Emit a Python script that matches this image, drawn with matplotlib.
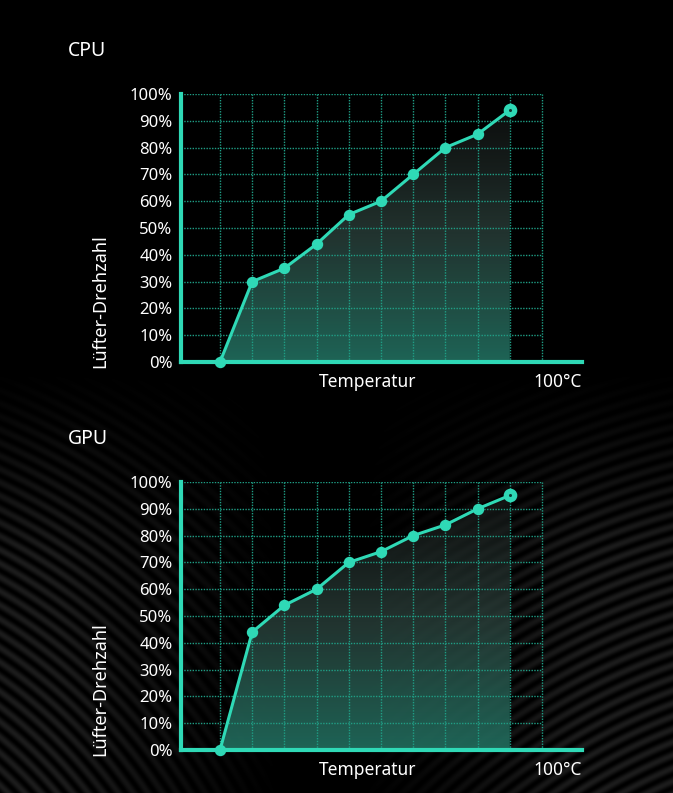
import numpy as np
import matplotlib
matplotlib.use("Agg")
import matplotlib.pyplot as plt
from matplotlib.patches import Polygon
from matplotlib.colors import LinearSegmentedColormap

plt.rcParams['font.family'] = ['Noto Sans', 'DejaVu Sans']

# ---- data ----
steps = list(range(10))                      # temperature steps along the curve
grid_steps = list(range(11))
cpu_speed = [0, 30, 35, 44, 55, 60, 70, 80, 85, 94]
gpu_speed = [0, 44, 54, 60, 70, 74, 80, 84, 90, 95]
y_ticks = [0, 10, 20, 30, 40, 50, 60, 70, 80, 90, 100]
y_tick_labels = [f"{v}%" for v in y_ticks]
titles = ["CPU", "GPU"]
ylabel = "Lüfter-Drehzahl"
xlabel = "Temperatur"
xmax_label = "100°C"

W, H = 673, 793
TEAL = "#2fd9b6"
GRID = "#1f9e85"

fig = plt.figure(figsize=(W / 100, H / 100), dpi=100)
fig.patch.set_facecolor("black")

# ---- decorative background stripes ----
bg = fig.add_axes([0, 0, 1, 1])
bg.set_axis_off()
yy, xx = np.mgrid[0:H, 0:W].astype(float)
r1 = np.hypot(xx + 300, yy - 1100)
r2 = np.hypot(xx - 900, yy - 1300)
s1 = 0.5 + 0.5 * np.sin(2 * np.pi * r1 / 12.0)
s2 = 0.5 + 0.5 * np.sin(2 * np.pi * r2 / 12.0)
env_y = np.clip((yy - 370) / 180, 0, 1)
w1 = np.clip((280 - xx) / 220, 0, 1)
w2 = np.clip((xx - 360) / 220, 0, 1)
pattern = env_y * (s1 * w1 + s2 * w2) * 0.11
bg.imshow(pattern, cmap="gray", vmin=0, vmax=1, extent=(0, W, H, 0),
          aspect="auto", interpolation="bilinear")
bg.set_xlim(0, W)
bg.set_ylim(H, 0)

fill_cmap = LinearSegmentedColormap.from_list(
    "f", [(0.13, 0.43, 0.37, 1.0), (0.17, 0.25, 0.23, 0.85),
          (0.08, 0.08, 0.08, 0.6)])


def draw_panel(top_px, speeds, title):
    bottom_px = top_px + 268
    left_px, right_px = 181, 582
    ax = fig.add_axes([left_px / W, 1 - bottom_px / H,
                       (right_px - left_px) / W, 268 / H])
    ax.set_facecolor("none")
    x0 = (181 - 220) / 32.2
    x1 = (582 - 220) / 32.2
    ax.set_xlim(x0, x1)
    ax.set_ylim(0, 100)

    # gradient fill under curve
    verts = [(steps[0], 0)] + list(zip(steps, speeds)) + [(steps[-1], 0)]
    poly = Polygon(verts, closed=True, facecolor="none", edgecolor="none")
    ax.add_patch(poly)
    grad = np.linspace(0, 1, 256).reshape(-1, 1)
    im = ax.imshow(grad, cmap=fill_cmap, extent=(steps[0], steps[-1], 0, 100),
                   origin="lower", aspect="auto", zorder=1, alpha=0.92)
    im.set_clip_path(poly)

    # dotted grid
    ax.vlines(grid_steps, 0, 100, colors=GRID, linestyles=(0, (1, 1)),
              linewidth=1.0, zorder=2)
    ax.hlines(y_ticks[1:], x0, grid_steps[-1], colors=GRID,
              linestyles=(0, (1, 1)), linewidth=1.0, zorder=2)

    # curve
    ax.plot(steps, speeds, color=TEAL, lw=2.2, marker="o", ms=7.2,
            mfc=TEAL, mec=TEAL, zorder=4, clip_on=False)
    ax.plot(steps[-1], speeds[-1], marker="o", ms=8, mfc="none", mec=TEAL,
            mew=1.8, zorder=5, clip_on=False)
    ax.plot(steps[-1], speeds[-1], marker="o", ms=2.2, mfc="#0d3b33",
            mec="none", zorder=6, clip_on=False)

    for s in ["top", "right"]:
        ax.spines[s].set_visible(False)
    for s in ["left", "bottom"]:
        ax.spines[s].set_color(TEAL)
        ax.spines[s].set_linewidth(3)
        ax.spines[s].set_zorder(3)
    ax.set_xticks([])
    ax.set_yticks(y_ticks)
    ax.set_yticklabels(y_tick_labels)
    ax.tick_params(axis="y", length=0, pad=6, colors="white", labelsize=12)

    fig.text(68 / W, 1 - (top_px - 43) / H, title, color="white",
             fontsize=14, ha="left", va="center")
    fig.text(100 / W, 1 - (top_px + 207) / H, ylabel, color="white",
             fontsize=13, rotation=90, ha="center", va="center")
    fig.text(368 / W, 1 - (top_px + 288) / H, xlabel, color="white",
             fontsize=12.5, ha="center", va="center")
    fig.text(582 / W, 1 - (top_px + 288) / H, xmax_label, color="white",
             fontsize=12.5, ha="right", va="center")


draw_panel(94, cpu_speed, titles[0])
draw_panel(482, gpu_speed, titles[1])

fig.savefig("out.png", dpi=100, facecolor="black")
